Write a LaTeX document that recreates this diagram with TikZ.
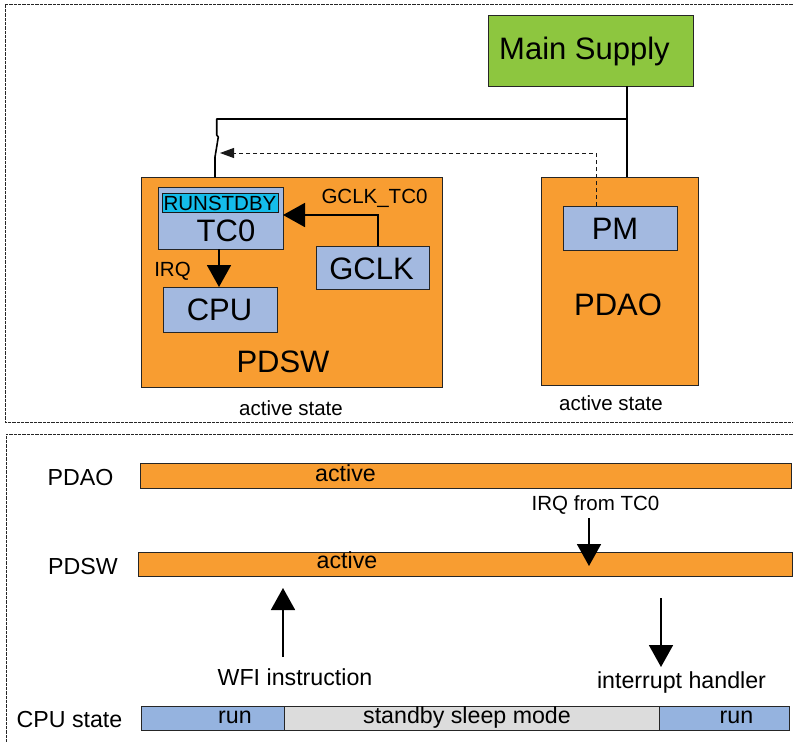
\documentclass[tikz,border=0pt]{standalone}
\usepackage{fontspec}
\setmainfont{Liberation Sans}
\usetikzlibrary{arrows.meta}
\definecolor{orng}{HTML}{F89D31}
\definecolor{lblue}{HTML}{A3B9E0}
\definecolor{rblue}{HTML}{95B3DF}
\definecolor{grn}{HTML}{8DC63F}
\definecolor{cyn}{HTML}{14BCEA}
\definecolor{lgrey}{HTML}{DCDCDC}
\tikzset{
  box/.style={draw=black!85,line width=0.8pt,inner sep=0pt,outer sep=0pt,anchor=north west},
  frame/.style={draw=black!85,line width=0.9pt,dash pattern=on 0.9pt off 0.4pt},
  big/.style={inner sep=0pt,anchor=base,font=\fontsize{31}{31}\selectfont},
  mid/.style={inner sep=0pt,anchor=base,font=\fontsize{23.2}{23.2}\selectfont},
  small/.style={inner sep=0pt,anchor=base,font=\fontsize{20.5}{20.5}\selectfont},
  wire/.style={line width=1.6pt,black},
  bigarrow/.style={line width=1.8pt,-{Triangle[length=22pt,width=24pt]}},
  dasharrow/.style={line width=1pt,black!90,dash pattern=on 4pt off 3pt,-{Triangle[length=14pt,width=10pt]}}
}
\begin{document}
\begin{tikzpicture}[x=1pt,y=-1pt]
\useasboundingbox (0,0) rectangle (793,742);
\begin{scope}
\clip (0,0) rectangle (793,742);
% frames
\draw[frame] (805,4) -- (5,4) -- (5,422) -- (805,422);
\draw[frame] (805,434) -- (6,434) -- (6,760);

% ---------- top panel ----------
\node[box,fill=grn,minimum width=205pt,minimum height=71pt] (ms) at (488,15) {};
\node[big] (mst) at (584.5,59) {Main Supply};

\node[box,fill=orng,minimum width=301pt,minimum height=210pt] (pdsw) at (141,177) {};
\node[box,fill=orng,minimum width=157pt,minimum height=208pt] (pdao) at (541,177) {};

\node[box,fill=lblue,minimum width=125pt,minimum height=62pt] (tc0) at (158,187) {};
\node[box,fill=cyn,draw=black!90,minimum width=116pt,minimum height=19pt] (rsb) at (162,193) {};
\node[box,fill=lblue,minimum width=113pt,minimum height=43pt] (gclk) at (316,246) {};
\node[box,fill=lblue,minimum width=114pt,minimum height=45pt] (cpu) at (163,287) {};
\node[box,fill=lblue,minimum width=114pt,minimum height=44pt] (pm) at (563,206) {};

\node[small] (rsbt) at (220,210) {RUNSTDBY};
\node[big] (tc0t) at (226,241.7) {TC0};
\node[big] (gclkt) at (371.5,279) {GCLK};
\node[big] (cput) at (219.5,320) {CPU};
\node[big] (pdswt) at (283,372.7) {PDSW};
\node[small] (gtc) at (374.5,203) {GCLK\_TC0};
\node[small] (irq) at (172.5,276) {IRQ};
\node[big] (pmt) at (615,239) {PM};
\node[big] (pdaot) at (618,315) {PDAO};
\node[small] (as1) at (291,415) {active state};
\node[small] (as2) at (611,410) {active state};

% power wiring
\coordinate (j) at (627,119);
\coordinate (sa) at (216.7,119);
\coordinate (sb) at (216.7,135);
\coordinate (sc) at (218.3,137);
\coordinate (sd) at (215,157);
\draw[wire] (j |- ms.south) -- (j |- pdao.north);
\draw[wire,line cap=round,line join=round] (j) -- (sa) -- (sb) -- (sc) -- (sd) -- (sd |- pdsw.north);
% dashed control from PM
\coordinate (dc) at (596,153);
\coordinate (dt) at (220,153);
\draw[dasharrow] (dc |- pm.north) -- (dc) -- (dt);
% clock and irq
\coordinate (g) at (378,215);
\draw[bigarrow] (g |- gclk.north) -- (g) -- (g -| tc0.east);
\coordinate (ir) at (219,0);
\draw[bigarrow] (ir |- tc0.south) -- (ir |- cpu.north);

% ---------- bottom panel ----------
\node[mid] (l1) at (80.5,485) {PDAO};
\node[mid] (l2) at (83,574) {PDSW};
\node[mid] (l3) at (69.5,727) {CPU state};

\node[box,fill=orng,minimum width=651pt,minimum height=25pt] (bao) at (140,463) {};
\node[box,fill=orng,minimum width=654pt,minimum height=24pt] (bsw) at (138,552) {};
\node[mid] (a1) at (345.5,481.7) {active};
\node[mid] (a2) at (347,568) {active};

\node[box,fill=rblue,minimum width=143pt,minimum height=24pt] (r1) at (141,706) {};
\node[box,fill=lgrey,minimum width=375pt,minimum height=24pt] (sb1) at (284,706) {};
\node[box,fill=rblue,minimum width=130pt,minimum height=24pt] (r2) at (659,706) {};
\node[mid] (r1t) at (235,723) {run};
\node[mid] (sbt) at (467,723) {standby sleep mode};
\node[mid] (r2t) at (736.5,723) {run};

\node[small] (irqt) at (595.5,510) {IRQ from TC0};
\coordinate (ia) at (589,518);
\coordinate (ib) at (589,566);
\draw[bigarrow] (ia) -- (ib);

\node[mid] (wfi) at (295,685) {WFI instruction};
\coordinate (wa) at (283,657);
\coordinate (wb) at (283,588);
\draw[bigarrow] (wa) -- (wb);

\node[mid] (ih) at (681.5,688) {interrupt handler};
\coordinate (ha) at (661,598);
\coordinate (hb) at (661,667);
\draw[bigarrow] (ha) -- (hb);
\end{scope}
\end{tikzpicture}
\end{document}
